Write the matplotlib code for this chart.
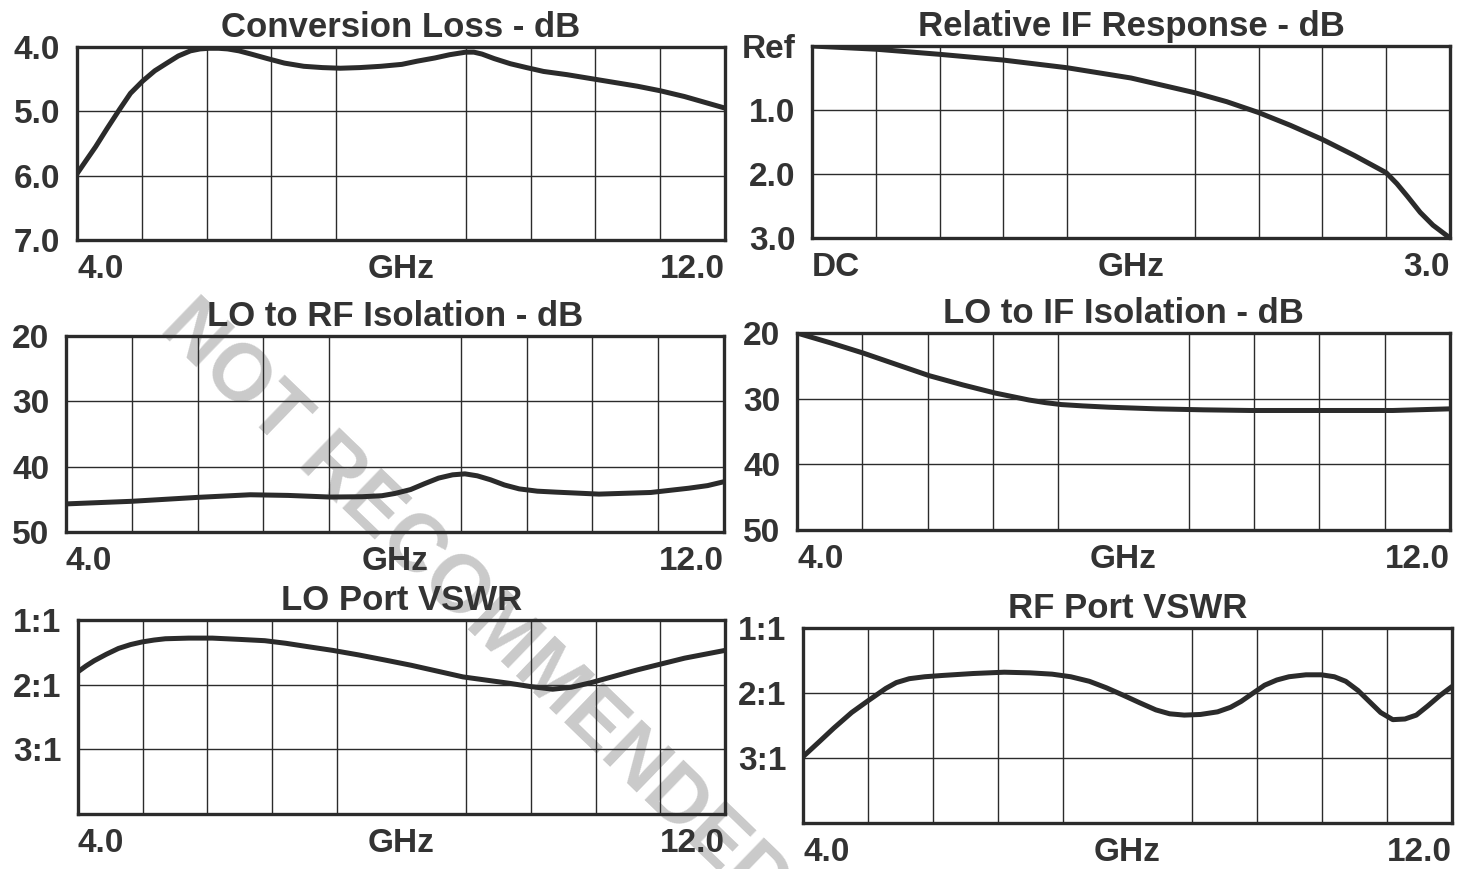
import numpy as np
import matplotlib
matplotlib.use("Agg")
import matplotlib.pyplot as plt
from matplotlib.ticker import MultipleLocator

plt.rcParams['font.family'] = ['Liberation Sans', 'DejaVu Sans']
plt.rcParams['font.weight'] = 'bold'

# --- data ---
cl_freq = [4.0, 4.12, 4.23, 4.37, 4.52, 4.66, 4.81, 4.96, 5.11, 5.25, 5.40, 5.52, 5.63, 5.75, 5.86, 6.0, 6.15,
           6.35, 6.56, 6.8, 7.03, 7.25, 7.49, 7.75, 8.01, 8.2, 8.42, 8.6, 8.8, 8.9, 9.0, 9.15, 9.35, 9.55, 9.76,
           10.05, 10.34, 10.63, 10.92, 11.2, 11.5, 11.75, 12.0]
cl_db = [5.97, 5.75, 5.55, 5.27, 4.98, 4.72, 4.53, 4.37, 4.25, 4.14, 4.06, 4.03, 4.02, 4.02, 4.03, 4.06, 4.11,
         4.18, 4.25, 4.30, 4.32, 4.33, 4.32, 4.30, 4.27, 4.22, 4.17, 4.12, 4.08, 4.08, 4.11, 4.18, 4.26, 4.32, 4.38,
         4.43, 4.49, 4.55, 4.61, 4.68, 4.77, 4.86, 4.95]

if_freq = [0.0, 0.3, 0.6, 0.9, 1.2, 1.5, 1.8, 1.95, 2.1, 2.25, 2.4, 2.55, 2.7, 2.75, 2.8, 2.86, 2.92, 3.0]
if_db = [0.0, 0.05, 0.13, 0.22, 0.34, 0.50, 0.73, 0.87, 1.04, 1.24, 1.46, 1.71, 1.98, 2.15, 2.35, 2.6, 2.8, 3.0]

lorf_freq = [4.0, 4.8, 5.6, 6.24, 6.7, 7.21, 7.6, 7.84, 8.0, 8.19, 8.36, 8.53, 8.7, 8.85, 9.0, 9.16, 9.33, 9.51,
             9.73, 9.96, 10.48, 11.11, 11.57, 11.8, 12.0]
lorf_db = [45.7, 45.3, 44.7, 44.3, 44.4, 44.65, 44.6, 44.45, 44.1, 43.5, 42.6, 41.75, 41.25, 41.1, 41.4, 42.0,
           42.8, 43.4, 43.75, 43.9, 44.2, 43.95, 43.3, 42.9, 42.3]

loif_freq = [4.0, 4.41, 4.81, 5.22, 5.62, 6.03, 6.43, 6.84, 7.04, 7.24, 7.5, 7.82, 8.40, 8.98, 9.56, 10.43, 11.3, 12.0]
loif_db = [20.0, 21.5, 23.05, 24.8, 26.5, 27.9, 29.15, 30.2, 30.6, 30.9, 31.1, 31.3, 31.55, 31.7, 31.8, 31.8, 31.8, 31.55]

lo_freq = [4.0, 4.1, 4.2, 4.35, 4.5, 4.65, 4.79, 4.94, 5.08, 5.37, 5.66, 6.0, 6.31, 6.57, 6.83, 7.15, 7.47, 7.8,
           8.12, 8.44, 8.76, 9.05, 9.34, 9.6, 9.87, 10.1, 10.34, 10.63, 10.92, 11.21, 11.5, 11.75, 12.0]
lo_vswr = [1.8, 1.71, 1.63, 1.53, 1.44, 1.38, 1.34, 1.31, 1.29, 1.28, 1.28, 1.30, 1.32, 1.36, 1.41, 1.47, 1.54,
           1.62, 1.70, 1.79, 1.88, 1.93, 1.98, 2.03, 2.07, 2.04, 1.97, 1.87, 1.77, 1.68, 1.59, 1.53, 1.47]

rf_freq = [4.0, 4.2, 4.38, 4.6, 4.79, 5.02, 5.15, 5.31, 5.5, 5.72, 6.1, 6.48, 6.8, 7.07, 7.3, 7.53, 7.74, 7.94,
           8.15, 8.35, 8.52, 8.70, 8.9, 9.11, 9.27, 9.40, 9.55, 9.69, 9.84, 9.99, 10.2, 10.39, 10.55, 10.69, 10.84,
           10.98, 11.12, 11.27, 11.42, 11.56, 11.7, 11.85, 12.0]
rf_vswr = [2.98, 2.75, 2.54, 2.30, 2.13, 1.93, 1.84, 1.78, 1.75, 1.73, 1.70, 1.68, 1.69, 1.71, 1.75, 1.82, 1.92,
           2.03, 2.15, 2.26, 2.32, 2.34, 2.33, 2.29, 2.22, 2.13, 2.00, 1.88, 1.80, 1.75, 1.72, 1.72, 1.75, 1.82, 1.96,
           2.13, 2.30, 2.41, 2.40, 2.34, 2.20, 2.04, 1.90]

W, H = 1472, 869
dark = '#2b2b2b'
fig = plt.figure(figsize=(W / 100, H / 100), dpi=100)

# watermark behind the panels
fig.text(158 / W, 1 - 330 / H, 'NOT RECOMMENDED', fontsize=58, color='#cacaca',
         rotation=-44, rotation_mode='anchor', ha='left', va='baseline', zorder=0)


def panel(box, title, x, y, xlim, xstep, xlabels, ylim, yticks, ylabels):
    l, r, t, b = box
    ax = fig.add_axes([l / W, 1 - b / H, (r - l) / W, (b - t) / H])
    ax.set_zorder(1)
    ax.set_facecolor('none')
    ax.plot(x, y, color=dark, lw=3.6, solid_capstyle='round', solid_joinstyle='round', zorder=3)
    ax.set_xlim(*xlim)
    ax.set_ylim(ylim[1], ylim[0])
    ax.xaxis.set_minor_locator(MultipleLocator(xstep))
    ax.grid(True, which='minor', axis='x', color=dark, lw=1.0)
    ax.set_xticks([xlim[0], (xlim[0] + xlim[1]) / 2, xlim[1]], xlabels)
    ax.set_yticks(yticks, ylabels)
    ax.grid(True, which='major', axis='y', color=dark, lw=1.0)
    ax.tick_params(which='both', length=0, labelsize=24, colors='#333333')
    ax.tick_params(axis='y', pad=12)
    ax.tick_params(axis='x', pad=10)
    xl = ax.get_xticklabels()
    xl[0].set_ha('left')
    xl[2].set_ha('right')
    for s in ax.spines.values():
        s.set_linewidth(2.4)
        s.set_color(dark)
    ax.set_title(title, fontsize=25, fontweight='bold', color='#333333', pad=7)
    return ax


panel((77, 725, 47, 240), 'Conversion Loss - dB', cl_freq, cl_db, (4, 12), 0.8,
      ['4.0', 'GHz', '12.0'], (4, 7), [4, 5, 6, 7], ['4.0', '5.0', '6.0', '7.0'])
panel((812, 1450, 46, 238), 'Relative IF Response - dB', if_freq, if_db, (0, 3), 0.3,
      ['DC', 'GHz', '3.0'], (0, 3), [0, 1, 2, 3], ['Ref', '1.0', '2.0', '3.0'])
panel((66, 724, 336, 532), 'LO to RF Isolation - dB', lorf_freq, lorf_db, (4, 12), 0.8,
      ['4.0', 'GHz', '12.0'], (20, 50), [20, 30, 40, 50], ['20', '30', '40', '50'])
panel((797, 1450, 333, 530), 'LO to IF Isolation - dB', loif_freq, loif_db, (4, 12), 0.8,
      ['4.0', 'GHz', '12.0'], (20, 50), [20, 30, 40, 50], ['20', '30', '40', '50'])
panel((78, 725, 620, 814), 'LO Port VSWR', lo_freq, lo_vswr, (4, 12), 0.8,
      ['4.0', 'GHz', '12.0'], (1, 4), [1, 2, 3, 4], ['1:1', '2:1', '3:1', ''])
panel((803, 1452, 628, 823), 'RF Port VSWR', rf_freq, rf_vswr, (4, 12), 0.8,
      ['4.0', 'GHz', '12.0'], (1, 4), [1, 2, 3, 4], ['1:1', '2:1', '3:1', ''])

fig.savefig('out.png', dpi=100)
